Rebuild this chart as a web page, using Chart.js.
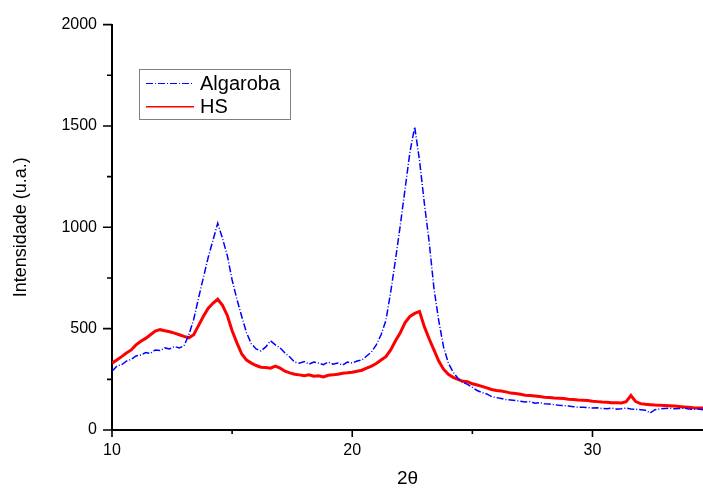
<!DOCTYPE html>
<html><head><meta charset="utf-8">
<script src="https://cdn.jsdelivr.net/npm/chart.js@4.4.0/dist/chart.umd.min.js"></script>
<style>html,body{margin:0;padding:0;background:#fff;}#wrap{width:703px;height:488px;}</style>
</head><body><div id="wrap"><canvas id="c" width="703" height="488"></canvas></div>
<script>
const theta = [10.0,10.2,10.4,10.6,10.8,11.0,11.2,11.4,11.6,11.8,12.0,12.2,12.4,12.6,12.8,13.0,13.2,13.4,13.6,13.8,
14.0,14.2,14.4,14.6,14.8,15.0,15.2,15.4,15.6,15.8,16.0,16.2,16.4,16.6,16.8,17.0,17.2,17.4,17.6,17.8,
18.0,18.2,18.4,18.6,18.8,19.0,19.2,19.4,19.6,19.8,20.0,20.2,20.4,20.6,20.8,21.0,21.2,21.4,21.6,21.8,
22.0,22.2,22.4,22.6,22.8,23.0,23.2,23.4,23.6,23.8,24.0,24.2,24.4,24.6,24.8,25.0,25.2,25.4,25.6,25.8,
26.0,26.2,26.4,26.6,26.8,27.0,27.2,27.4,27.6,27.8,28.0,28.2,28.4,28.6,28.8,29.0,29.2,29.4,29.6,29.8,
30.0,30.2,30.4,30.6,30.8,31.0,31.2,31.4,31.6,31.8,32.0,32.2,32.4,32.6,32.8,33.0,33.2,33.4,33.6,33.8,
34.0,34.2,34.4,34.6];
const algaroba = [290,315,322,340,348,365,370,382,378,395,392,405,400,412,405,415,470,545,650,750,
850,935,1020,945,860,740,645,560,480,425,400,390,410,440,420,405,380,360,335,330,
338,325,335,330,322,335,325,330,320,335,330,340,345,365,385,420,470,540,680,840,
1010,1190,1370,1495,1330,1120,930,700,540,410,330,285,255,235,225,210,195,185,178,165,
160,155,150,148,145,142,138,140,132,135,130,128,125,122,120,118,115,112,112,110,
108,110,106,105,108,103,105,108,104,102,100,98,84,100,104,106,108,105,106,108,
104,102,104,100];
const hs = [330,345,362,380,395,420,438,452,470,488,495,490,485,478,470,462,455,470,515,560,
600,625,645,615,565,490,430,375,345,330,318,310,308,305,315,305,290,282,275,272,
268,272,265,268,262,270,272,275,280,282,285,290,295,305,315,328,345,362,395,440,
480,530,560,575,585,510,450,395,340,300,275,260,250,240,238,228,222,215,208,200,
195,192,188,182,180,176,172,170,168,165,162,160,158,157,155,152,150,148,147,145,
142,140,138,137,135,134,133,140,170,140,130,127,125,123,122,121,120,118,116,114,
112,110,109,108];
const seriesNames = ['Algaroba','HS'];
const xMajor = [10,20,30];
const xMinor = [15,25];
const yMajor = [0,500,1000,1500,2000];
const yMinor = [250,750,1250,1750];

const FONT = "'Liberation Sans', Arial, sans-serif";
const BLUE = '#0000ff', RED = '#ff0000';
const blueDash = [7,2,1,2];

const tickPlugin = {
  id: 'tickMarks',
  afterDraw(chart) {
    const ctx = chart.ctx, xs = chart.scales.x, ys = chart.scales.y;
    const ca = chart.chartArea;
    ctx.save();
    ctx.strokeStyle = '#000';
    ctx.lineWidth = 1.6;
    ctx.beginPath();
    xMajor.forEach(v => { const p = xs.getPixelForValue(v); ctx.moveTo(p, ca.bottom); ctx.lineTo(p, ca.bottom + 7); });
    xMinor.forEach(v => { const p = xs.getPixelForValue(v); ctx.moveTo(p, ca.bottom); ctx.lineTo(p, ca.bottom + 4); });
    yMajor.forEach(v => { const p = ys.getPixelForValue(v); ctx.moveTo(ca.left, p); ctx.lineTo(ca.left - 9, p); });
    yMinor.forEach(v => { const p = ys.getPixelForValue(v); ctx.moveTo(ca.left, p); ctx.lineTo(ca.left - 5, p); });
    ctx.stroke();
    ctx.restore();
  }
};

const legendPlugin = {
  id: 'boxLegend',
  afterDraw(chart) {
    const ctx = chart.ctx;
    ctx.save();
    ctx.strokeStyle = '#808080';
    ctx.lineWidth = 1;
    ctx.strokeRect(139.5, 69.5, 151, 50);
    chart.data.datasets.forEach((ds, i) => {
      const y = 83.5 + i * 23.3;
      ctx.beginPath();
      ctx.strokeStyle = ds.borderColor;
      ctx.lineWidth = i === 0 ? 1 : 1.5;
      ctx.setLineDash(ds.borderDash || []);
      ctx.moveTo(146, y); ctx.lineTo(194, y);
      ctx.stroke();
      ctx.setLineDash([]);
      ctx.fillStyle = '#000';
      ctx.font = '20px ' + FONT;
      ctx.textBaseline = 'middle';
      ctx.textAlign = 'left';
      ctx.fillText(ds.label, 200, y + 1);
    });
    ctx.restore();
  }
};

new Chart(document.getElementById('c'), {
  type: 'line',
  data: {
    datasets: [
      { label: seriesNames[0], data: theta.map((t, i) => ({x: t, y: algaroba[i]})),
        borderColor: BLUE, borderWidth: 1.5, borderDash: blueDash, pointRadius: 0, tension: 0, fill: false },
      { label: seriesNames[1], data: theta.map((t, i) => ({x: t, y: hs[i]})),
        borderColor: RED, borderWidth: 3, pointRadius: 0, tension: 0, fill: false }
    ]
  },
  options: {
    responsive: false, animation: false, devicePixelRatio: 1,
    layout: { padding: { top: 23, right: 0, bottom: 0, left: 0 } },
    plugins: { legend: { display: false }, tooltip: { enabled: false } },
    scales: {
      x: {
        type: 'linear', min: 10, max: 34.6,
        afterBuildTicks: s => { s.ticks = xMajor.map(v => ({value: v})); },
        afterFit: s => { s.height = 58; },
        grid: { display: false, drawTicks: false },
        border: { display: true, color: '#000', width: 2 },
        ticks: { color: '#000', font: { family: FONT, size: 16 }, padding: 11, maxRotation: 0, autoSkip: false,
                 callback: v => String(v) },
        title: { display: true, text: '2θ', color: '#000', font: { family: FONT, size: 19, lineHeight: 1 }, padding: { top: 0, bottom: 0 } }
      },
      y: {
        type: 'linear', min: 0, max: 2000,
        afterBuildTicks: s => { s.ticks = yMajor.map(v => ({value: v})); },
        afterFit: s => { s.width = 112; },
        grid: { display: false, drawTicks: false },
        border: { display: true, color: '#000', width: 2 },
        ticks: { color: '#000', font: { family: FONT, size: 16 }, padding: 15, autoSkip: false,
                 callback: v => String(v) },
        title: { display: true, text: 'Intensidade (u.a.)', color: '#000', font: { family: FONT, size: 18 }, padding: { top: 10, bottom: 0 } }
      }
    }
  },
  plugins: [tickPlugin, legendPlugin]
});
</script></body></html>
